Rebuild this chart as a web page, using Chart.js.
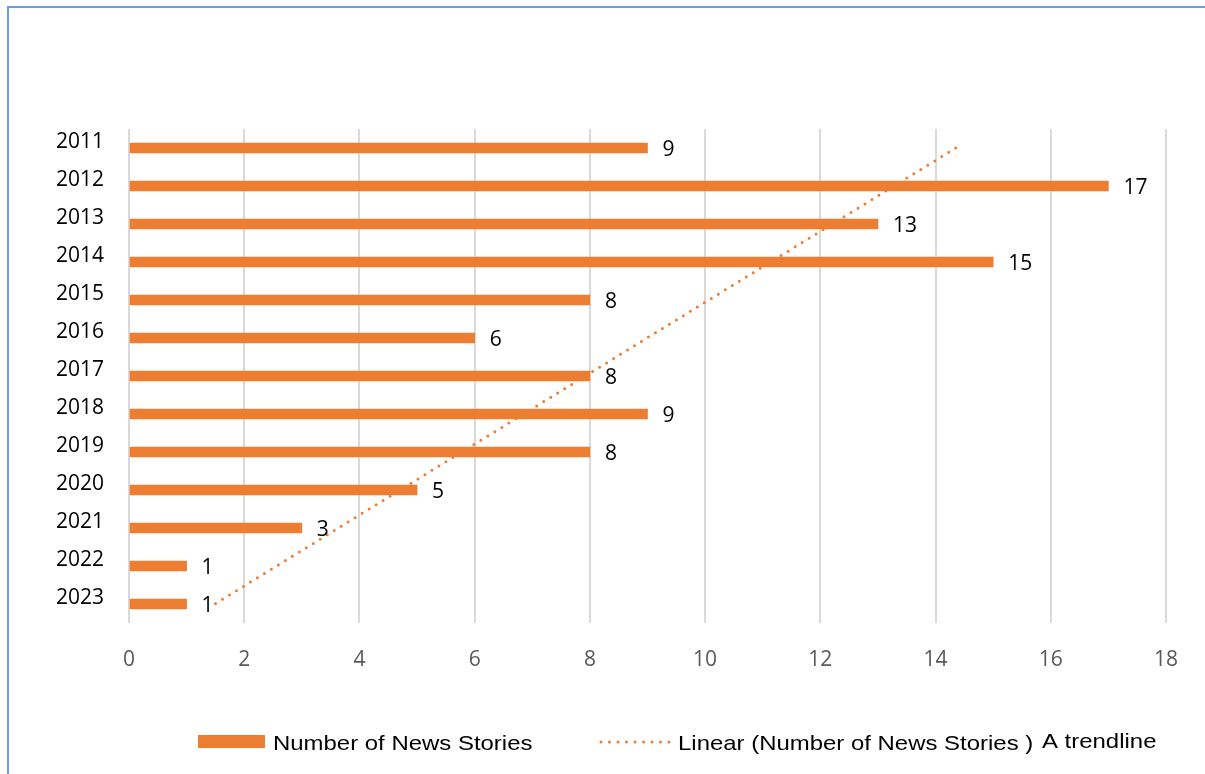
<!DOCTYPE html>
<html lang="en">
<head>
    <meta charset="UTF-8">
    <title>Number of News Stories</title>
    <script src="https://cdn.jsdelivr.net/npm/chart.js"></script>
    <style>
        html, body { margin: 0; padding: 0; background: #fff; }
        .wrap { position: relative; width: 1205px; height: 774px; overflow: hidden; }
        .frame {
            position: absolute; left: 7px; top: 6px; width: 1300px; height: 900px;
            border-left: 2px solid #6a9fdc; border-top: 2px solid #6a9fdc;
            pointer-events: none;
        }
        canvas { position: absolute; left: 0; top: 0; }
    </style>
</head>
<body>
<div class="wrap">
    <canvas id="newsChart" width="1205" height="774"></canvas>
    <div class="frame"></div>
</div>

<script>
    // data
    const years = ['2011', '2012', '2013', '2014', '2015', '2016', '2017', '2018', '2019', '2020', '2021', '2022', '2023'];
    const stories = [9, 17, 13, 15, 8, 6, 8, 9, 8, 5, 3, 1, 1];
    const trendYears = ['2011', '2023'];
    const trendValues = [14.35, 1.49];   // trendline ends as drawn
    const xMax = 18;
    const xStep = 2;

    const orange = '#ed7d31';

    // value labels next to each bar
    const barLabels = {
        id: 'barLabels',
        afterDatasetsDraw(chart) {
            const ctx = chart.ctx;
            const meta = chart.getDatasetMeta(0);
            ctx.save();
            ctx.font = '21px "Open Sans"';
            ctx.fillStyle = '#000';
            ctx.textAlign = 'left';
            ctx.textBaseline = 'middle';
            meta.data.forEach((bar, i) => {
                ctx.fillText(String(stories[i]), bar.x + 15, bar.y + 2);
            });
            ctx.restore();
        }
    };

    // legend drawn by hand to match the dotted swatch
    function wideText(ctx, text, x, y) {
        ctx.save();
        ctx.translate(x, y);
        ctx.scale(1.14, 1);
        ctx.fillText(text, 0, 0);
        ctx.restore();
    }

    const customLegend = {
        id: 'customLegend',
        afterDraw(chart) {
            const ctx = chart.ctx;
            ctx.save();
            ctx.fillStyle = orange;
            ctx.fillRect(198, 735, 67, 13);

            ctx.strokeStyle = orange;
            ctx.lineWidth = 3;
            ctx.lineCap = 'round';
            ctx.setLineDash([0, 8.5]);
            ctx.beginPath();
            ctx.moveTo(601, 742);
            ctx.lineTo(670, 742);
            ctx.stroke();
            ctx.setLineDash([]);

            ctx.fillStyle = '#000';
            ctx.font = '21px "Liberation Sans"';
            ctx.textBaseline = 'alphabetic';
            wideText(ctx, 'Number of News Stories', 273, 750);
            wideText(ctx, 'Linear (Number of News Stories )', 678, 750);
            wideText(ctx, 'A trendline', 1042, 748);
            ctx.restore();
        }
    };

    new Chart(document.getElementById('newsChart'), {
        type: 'bar',
        data: {
            labels: years,
            datasets: [{
                label: 'Number of News Stories',
                data: stories,
                backgroundColor: orange,
                barThickness: 10,
                order: 1
            }, {
                type: 'line',
                label: 'Linear (Number of News Stories )',
                data: trendYears.map((y, i) => ({ x: trendValues[i], y: y })),
                borderColor: orange,
                borderWidth: 3,
                borderDash: [0, 8.2],
                borderCapStyle: 'round',
                pointRadius: 0,
                fill: false,
                order: 0
            }]
        },
        options: {
            indexAxis: 'y',
            responsive: false,
            animation: false,
            layout: { padding: { left: 20, right: 39, top: 129, bottom: 0 } },
            scales: {
                x: {
                    min: 0,
                    max: xMax,
                    ticks: {
                        stepSize: xStep,
                        color: '#595959',
                        font: { family: 'Open Sans', size: 21 },
                        padding: 24
                    },
                    grid: { color: '#d9d9d9', lineWidth: 2, drawTicks: false },
                    border: { display: false },
                    afterFit(scale) { scale.height = 151; }
                },
                y: {
                    ticks: {
                        color: '#000',
                        font: { family: 'Open Sans', size: 21 },
                        padding: 17,
                        labelOffset: -6
                    },
                    grid: { display: false },
                    border: { display: false },
                    afterFit(scale) { scale.width = 109; }
                }
            },
            plugins: {
                legend: { display: false },
                tooltip: { enabled: false }
            }
        },
        plugins: [barLabels, customLegend]
    });
</script>
</body>
</html>
